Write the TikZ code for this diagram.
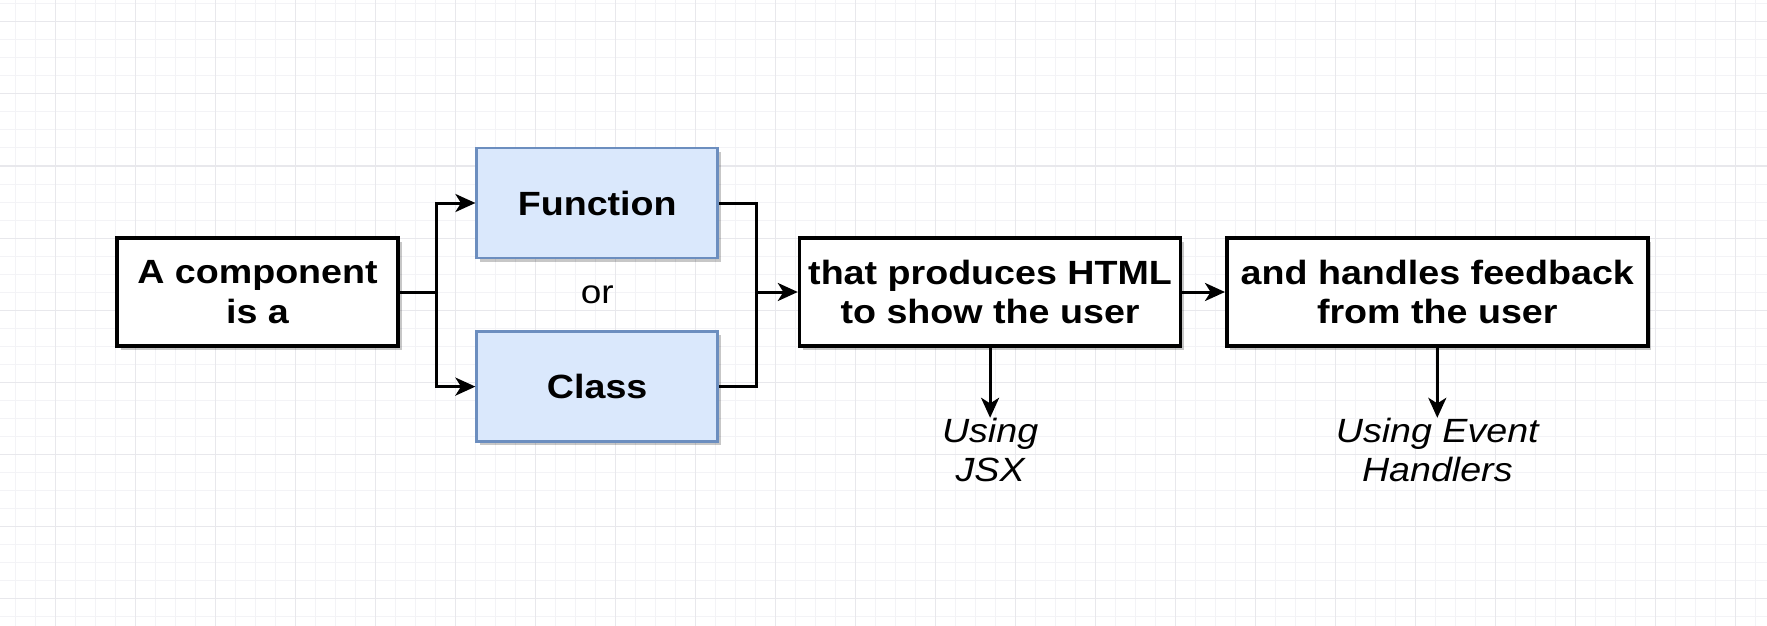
\documentclass[tikz,border=0pt]{standalone}
\usepackage{fontspec}
\setmainfont[FakeStretch=1.12]{Liberation Sans}
\usetikzlibrary{arrows.meta,positioning,shadows,calc}

\definecolor{fnfill}{HTML}{DAE8FC}
\definecolor{fndraw}{HTML}{6C8EBF}
\definecolor{gridmin}{HTML}{F3F3F6}
\definecolor{gridmaj}{HTML}{E8E8EC}

\begin{document}
\begin{tikzpicture}[
    x=1pt, y=-1pt,
    font=\fontsize{16.5}{19.7}\selectfont,
    box/.style={draw, line width=1.8pt, fill=white, minimum height=54pt, align=center, inner sep=1pt,
                font=\fontsize{16.8}{19.7}\selectfont\bfseries,
                drop shadow={shadow xshift=1.8pt, shadow yshift=-1.8pt, fill=black, opacity=0.22}},
    kind/.style={box, draw=fndraw, fill=fnfill, line width=1.3pt, minimum width=120.5pt, minimum height=55pt},
    lbl/.style={align=center, inner sep=0pt, font=\fontsize{16.8}{19.7}\selectfont\itshape},
    arr/.style={-{Stealth[length=10pt, width=9pt, inset=2.8pt]}, line width=1.5pt},
    wire/.style={line width=1.5pt},
  ]
    % Background grid
    \fill [white] (0,0) rectangle (883.5,313);
    \useasboundingbox (0,0) rectangle (883.5,313);
    \foreach \gx in {7.5,17.5,...,877.5}
      \draw [gridmin, line width=0.5pt] (\gx,0) -- (\gx,313);
    \foreach \gy in {2,11,...,308}
      \draw [gridmin, line width=0.5pt] (0,\gy) -- (883.5,\gy);
    \foreach \gx in {27.5,67.5,...,877.5}
      \draw [gridmaj, line width=0.5pt] (\gx,0) -- (\gx,313);
    \foreach \gy in {11,47,...,299}
      \draw [gridmaj, line width=0.5pt] (0,\gy) -- (883.5,\gy);

    % Main row
    \node (comp) [box, minimum width=140.5pt] at (128.75,146) {A component\\is a};
    \node (func) [kind, right=37.8pt of comp, yshift=44.5pt] {Function};
    \node (class) [kind, below=35.5pt of func] {Class};
    \node (or) at ($(func.south)!0.5!(class.north)$) {or};
    \node (html) [box, minimum width=190.5pt, right=199pt of comp] {that produces HTML\\to show the user};
    \node (fdbk) [box, minimum width=210.5pt, right=21.3pt of html] {and handles feedback\\from the user};

    % Notes below
    \node (jsx) [lbl, below=35pt of html] {Using\\JSX};
    \node (evt) [lbl, below=35pt of fdbk] {Using Event\\Handlers};

    % Connectors
    \coordinate (split) at (218,146);
    \coordinate (join) at (378,146);
    \draw [wire] (comp) -- (split);
    \draw [arr] (split) |- (func);
    \draw [arr] (split) |- (class);
    \draw [wire] (func) -| (join);
    \draw [wire] (class) -| (join);
    \draw [arr] (join) -- (html);
    \draw [arr] (html) -- (fdbk);
    \draw [arr] (html) -- (jsx);
    \draw [arr] (fdbk) -- (evt);
  \end{tikzpicture}
\end{document}
